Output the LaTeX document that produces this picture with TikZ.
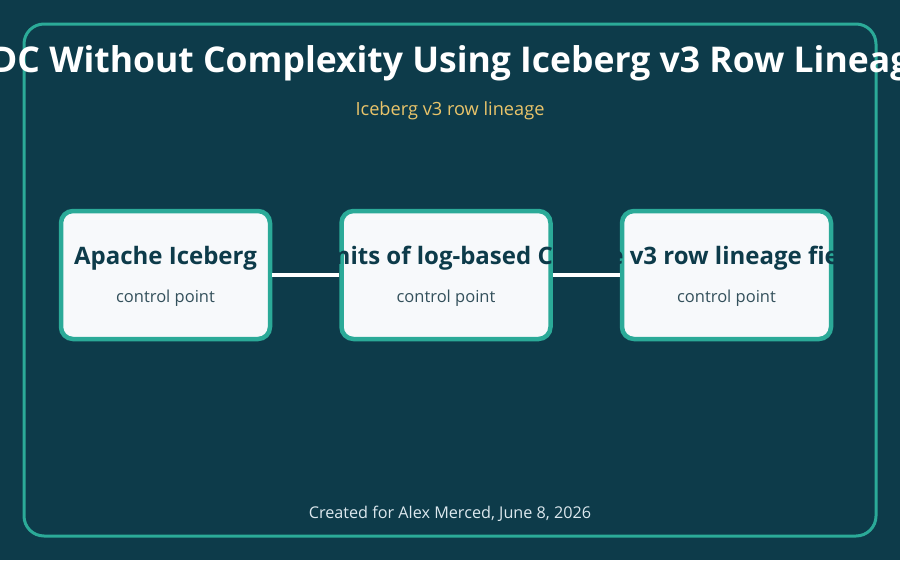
\documentclass[tikz,border=0pt]{standalone}
\usepackage{fontspec}
\setmainfont{Open Sans}
\usetikzlibrary{positioning}
\definecolor{fondo}{HTML}{0D3B4A}
\definecolor{verde}{HTML}{2BAA98}
\definecolor{blanco}{HTML}{F7F9FB}
\definecolor{amarillo}{HTML}{E9C46A}
\definecolor{gris}{HTML}{33505B}
\definecolor{pie}{HTML}{DCE8EE}

\tikzset{
  paso/.style={draw=verde, line width=4.5pt, fill=blanco, rounded corners=12pt,
    minimum width=209pt, minimum height=128pt, inner sep=0pt},
  nombre/.style={anchor=base, text=fondo, font=\bfseries\fontsize{24}{29}\selectfont},
  nota/.style={anchor=base, text=gris, font=\fontsize{16.5}{20}\selectfont},
  enlace/.style={draw=white, line width=4pt},
}

\begin{document}
\begin{tikzpicture}[x=1pt, y=-1pt]
  % Fondo y marco
  \clip (0,0) rectangle (900,560);
  \fill[fondo] (0,0) rectangle (900,560);
  \draw[verde, line width=3pt, rounded corners=20pt] (24,24) rectangle (876,536);

  % Titulos
  \node[anchor=base, text=white, font=\bfseries\fontsize{35.5}{42}\selectfont] (titulo) at (450,72)
    {CDC Without Complexity Using Iceberg v3 Row Lineage};
  \node[anchor=base, text=amarillo, font=\fontsize{18.2}{22}\selectfont] (subtitulo) at (450,115)
    {Iceberg v3 row lineage};

  % Las tres cajas
  \node[paso] (iceberg) at (165.5,275) {};
  \node[paso, right=67pt of iceberg] (limites) {};
  \node[paso, right=67pt of limites] (campos) {};

  % Enlaces
  \draw[enlace] (iceberg) -- (limites);
  \draw[enlace] (limites) -- (campos);

  % Textos de las cajas
  \node[nombre] (n1) at ([yshift=11pt]iceberg.center) {Apache Iceberg};
  \node[nombre] (n2) at ([yshift=11pt]limites.center) {Limits of log-based CDC};
  \node[nombre] (n3) at ([yshift=11pt]campos.center) {The v3 row lineage fields};
  \node[nota] (c1) at ([yshift=-27pt]iceberg.center) {control point};
  \node[nota] (c2) at ([yshift=-27pt]limites.center) {control point};
  \node[nota] (c3) at ([yshift=-27pt]campos.center) {control point};

  % Pie
  \node[anchor=base, text=pie, font=\fontsize{16.2}{20}\selectfont] (autor) at (450,518)
    {Created for Alex Merced, June 8, 2026};
\end{tikzpicture}
\end{document}
